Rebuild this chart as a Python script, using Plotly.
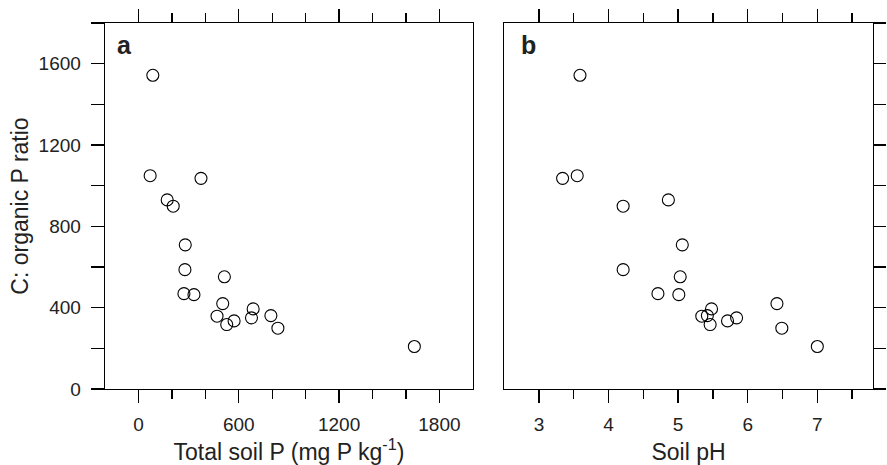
import plotly.graph_objects as go

# Data
total_p = [86, 70, 374, 172, 208, 280, 278, 514, 272, 332, 504, 686, 470, 792, 676, 572, 528, 834, 1650]
soil_ph = [3.59, 3.55, 3.34, 4.86, 4.21, 5.06, 4.21, 5.03, 4.71, 5.01, 6.42, 5.48, 5.34, 5.42, 5.84, 5.71, 5.46, 6.49, 7.00]
c_org_p = [1543, 1049, 1036, 930, 899, 709, 587, 552, 469, 464, 420, 394, 358, 361, 350, 335, 317, 299, 209]

x1_major = [0, 600, 1200, 1800]
x1_minor = [200, 400, 800, 1000, 1400, 1600]
x2_major = [3, 4, 5, 6, 7]
x2_minor = [3.5, 4.5, 5.5, 6.5, 7.5]
y_major = [0, 400, 800, 1200, 1600]
y_minor = [200, 600, 1000, 1400, 1800]

FONT = "Liberation Sans, Arial, Helvetica, sans-serif"
TXT = "#222222"

marker = dict(symbol="circle-open", size=12, color="black", line=dict(width=1.1, color="black"))

fig = go.Figure()
fig.add_trace(go.Scatter(x=total_p, y=c_org_p, mode="markers", marker=marker,
                         xaxis="x", yaxis="y", showlegend=False, hoverinfo="skip"))
fig.add_trace(go.Scatter(x=soil_ph, y=c_org_p, mode="markers", marker=marker,
                         xaxis="x2", yaxis="y2", showlegend=False, hoverinfo="skip"))

axis_common = dict(showgrid=False, zeroline=False, showline=True, linecolor="black",
                   linewidth=1.3, ticks="outside", tickcolor="black", tickwidth=1.3,
                   automargin=False,
                   tickfont=dict(family=FONT, size=19, color=TXT))

title_font = dict(family=FONT, size=23, color=TXT)

fig.update_layout(
    width=887, height=465,
    margin=dict(l=105, r=14, t=23, b=76),
    paper_bgcolor="white", plot_bgcolor="white",
    font=dict(family=FONT, color=TXT),
    hovermode=False,
    xaxis=dict(axis_common, domain=[0.0, 0.479], range=[-200, 2000], anchor="y",
               tickmode="array", tickvals=x1_major, ticklen=13, mirror="ticks",
               ticklabelstandoff=5,
               minor=dict(tickvals=x1_minor, ticks="outside", ticklen=9, tickcolor="black", tickwidth=1.3),
               title=dict(text="Total soil P (mg P kg<sup>-1</sup>)", font=title_font, standoff=12)),
    yaxis=dict(axis_common, domain=[0, 1], range=[0, 1800], anchor="x",
               tickmode="array", tickvals=y_major, ticklen=13, mirror=True,
               ticklabelstandoff=6,
               minor=dict(tickvals=y_minor, ticks="outside", ticklen=13, tickcolor="black", tickwidth=1.3),
               title=dict(text="C: organic P ratio", font=title_font, standoff=3)),
    xaxis2=dict(axis_common, domain=[0.5197, 1.0], range=[2.5, 7.8], anchor="y2",
                tickmode="array", tickvals=x2_major, ticklen=13, mirror="ticks",
                ticklabelstandoff=5,
                minor=dict(tickvals=x2_minor, ticks="outside", ticklen=9, tickcolor="black", tickwidth=1.3),
                title=dict(text="Soil pH", font=title_font, standoff=12)),
    yaxis2=dict(axis_common, domain=[0, 1], range=[0, 1800], anchor="x2", side="right",
                tickmode="array", tickvals=y_major, ticklen=12, mirror=True, showticklabels=False,
                minor=dict(tickvals=y_minor, ticks="outside", ticklen=12, tickcolor="black", tickwidth=1.3)),
    annotations=[
        dict(text="<b>a</b>", xref="x domain", yref="y domain", x=0.028, y=0.939,
             xanchor="left", yanchor="middle", showarrow=False,
             font=dict(family=FONT, size=25, color=TXT)),
        dict(text="<b>b</b>", xref="x2 domain", yref="y2 domain", x=0.04, y=0.939,
             xanchor="left", yanchor="middle", showarrow=False,
             font=dict(family=FONT, size=25, color=TXT)),
    ],
)

fig.write_html("out.html", config={"displayModeBar": False, "staticPlot": True},
               post_script="document.body.style.margin='0px';document.body.style.padding='0px';document.body.style.overflow='hidden';")
